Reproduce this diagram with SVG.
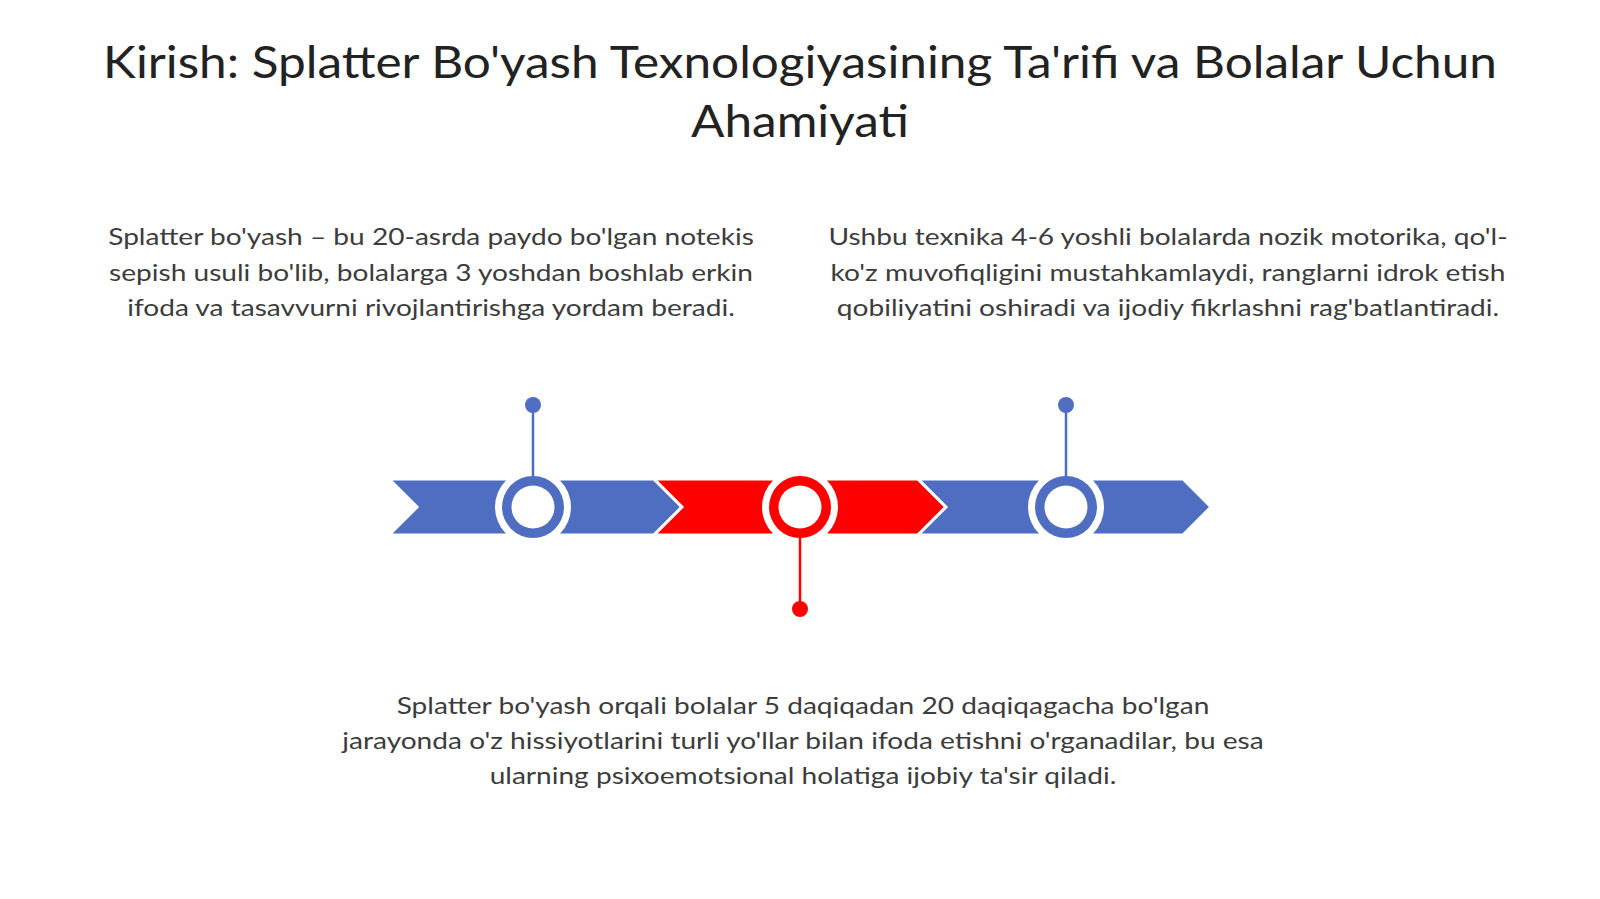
<svg xmlns="http://www.w3.org/2000/svg" width="1600" height="899" viewBox="0 0 1600 899">
<style>
.title{font-family:Lato,"Open Sans","Liberation Sans",sans-serif;font-size:45px;fill:#222;text-anchor:middle}
.body{font-family:Lato,"Open Sans","Liberation Sans",sans-serif;font-size:23.6px;fill:#3c3c3c;text-anchor:middle}
.blue{fill:#4F6EC1}
.red{fill:#FF0000}
.chev{stroke:#fff;stroke-width:3;stroke-linejoin:miter}
.halo{fill:#fff}
.hole{fill:#fff}
.lb{stroke:#4F6EC1;stroke-width:2.5}
.lr{stroke:#FF0000;stroke-width:2.5}
</style>
<rect width="1600" height="899" fill="#fff"/>
<g id="title" transform="translate(800,0) scale(1.1,1)">
<text class="title" x="0" y="78">Kirish: Splatter Bo'yash Texnologiyasining Ta'rifi va Bolalar Uchun</text>
<text class="title" x="0" y="137">Ahamiyati</text>
</g>
<g id="text-left" transform="translate(431,0) scale(1.19,1)">
<text class="body" x="0" y="245">Splatter bo'yash – bu 20-asrda paydo bo'lgan notekis</text>
<text class="body" x="0" y="281">sepish usuli bo'lib, bolalarga 3 yoshdan boshlab erkin</text>
<text class="body" x="0" y="316">ifoda va tasavvurni rivojlantirishga yordam beradi.</text>
</g>
<g id="text-right" transform="translate(1168,0) scale(1.19,1)">
<text class="body" x="0" y="245">Ushbu texnika 4-6 yoshli bolalarda nozik motorika, qo'l-</text>
<text class="body" x="0" y="281">ko'z muvofiqligini mustahkamlaydi, ranglarni idrok etish</text>
<text class="body" x="0" y="316">qobiliyatini oshiradi va ijodiy fikrlashni rag'batlantiradi.</text>
</g>
<g id="text-bottom" transform="translate(803,0) scale(1.19,1)">
<text class="body" x="0" y="714">Splatter bo'yash orqali bolalar 5 daqiqadan 20 daqiqagacha bo'lgan</text>
<text class="body" x="0" y="749">jarayonda o'z hissiyotlarini turli yo'llar bilan ifoda etishni o'rganadilar, bu esa</text>
<text class="body" x="0" y="784">ularning psixoemotsional holatiga ijobiy ta'sir qiladi.</text>
</g>
<g id="chevrons">
<polygon class="chev blue" points="389,479 654,479 682,507 654,535 389,535 417,507"/>
<polygon class="chev red" points="654,479 918,479 946,507 918,535 654,535 682,507"/>
<polygon class="chev blue" points="918,479 1183,479 1211,507 1183,535 918,535 946,507"/>
</g>
<g id="node1">
<circle class="halo" cx="533" cy="507" r="38"/>
<circle class="blue" cx="533" cy="507" r="31"/>
<circle class="hole" cx="533" cy="507" r="21.5"/>
<circle class="blue" cx="533" cy="405" r="8"/>
</g>
<g id="node2">
<circle class="halo" cx="800" cy="507" r="38"/>
<circle class="red" cx="800" cy="507" r="31"/>
<circle class="hole" cx="800" cy="507" r="21.5"/>
<circle class="red" cx="800" cy="609" r="8"/>
</g>
<g id="node3">
<circle class="halo" cx="1066" cy="507" r="38"/>
<circle class="blue" cx="1066" cy="507" r="31"/>
<circle class="hole" cx="1066" cy="507" r="21.5"/>
<circle class="blue" cx="1066" cy="405" r="8"/>
</g>
<g id="connectors">
<line class="lb" x1="533" y1="405" x2="533" y2="477"/>
<line class="lr" x1="800" y1="537" x2="800" y2="609"/>
<line class="lb" x1="1066" y1="405" x2="1066" y2="477"/>
</g>
</svg>
